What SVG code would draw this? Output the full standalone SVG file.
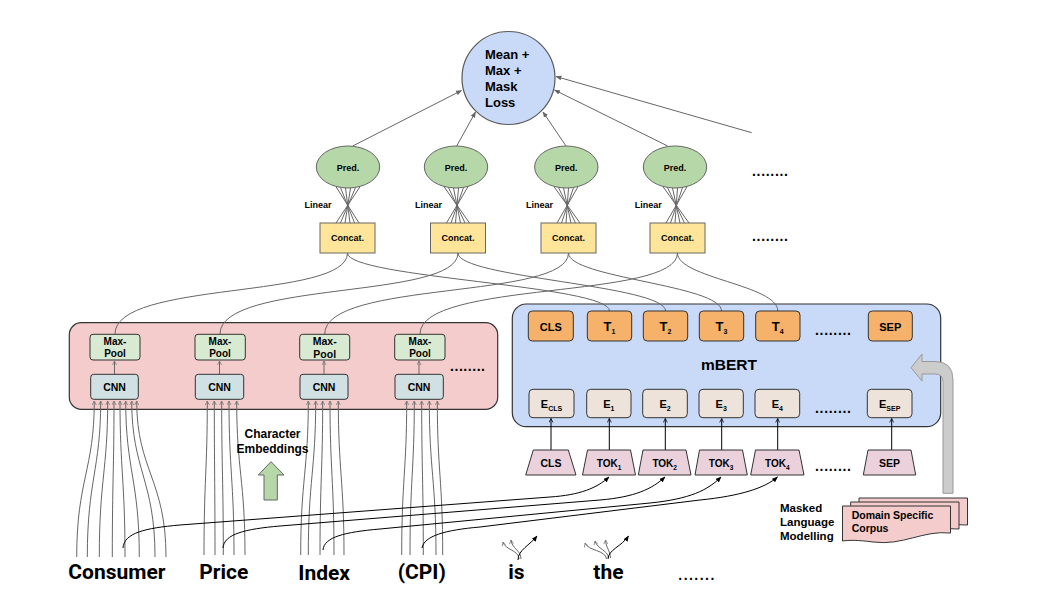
<svg xmlns="http://www.w3.org/2000/svg" width="1039" height="610" viewBox="0 0 1039 610">
<style>
text{font-family:"Liberation Sans",Arial,sans-serif;font-weight:bold;fill:#000}
.big{font-family:Roboto,"Liberation Sans",sans-serif;font-size:21px}
.c{text-anchor:middle}
.ln{fill:none;stroke:#666;stroke-width:1}
.bk{fill:none;stroke:#000;stroke-width:1}
.dots{font-size:14px}
</style>
<defs>
<marker id="ag" viewBox="0 0 10 10" refX="9" refY="5" markerWidth="6" markerHeight="6" orient="auto"><path d="M0,1 L10,5 L0,9 z" fill="#666"/></marker>
<marker id="ab" viewBox="0 0 10 10" refX="9" refY="5" markerWidth="6" markerHeight="6" orient="auto"><path d="M0,1 L10,5 L0,9 z" fill="#000"/></marker>
<marker id="cg" viewBox="0 0 10 10" refX="9" refY="5" markerWidth="5" markerHeight="5" orient="auto"><path d="M1,1 L9,5 L1,9" fill="none" stroke="#777" stroke-width="1.5"/></marker>
<marker id="cb" viewBox="0 0 10 10" refX="9" refY="5" markerWidth="5" markerHeight="5" orient="auto"><path d="M1,1 L9,5 L1,9" fill="none" stroke="#000" stroke-width="1.5"/></marker>
</defs>

<!-- containers -->
<g id="charcnn">
<rect x="69.3" y="322.7" width="428.4" height="86.6" rx="12" fill="#f4cccc" stroke="#333" stroke-width="1.2"/>
<text x="450" y="370.5" class="dots" textLength="35" lengthAdjust="spacing">........</text>
</g>
<g id="mbert">
<rect x="512.3" y="304" width="428.4" height="122.7" rx="14" fill="#c9daf8" stroke="#333" stroke-width="1.2"/>
<text x="729" y="370" class="c" font-size="15.5">mBERT</text>
<text x="815" y="334.5" class="dots" textLength="36" lengthAdjust="spacing">........</text>
<text x="815" y="412.5" class="dots" textLength="36" lengthAdjust="spacing">........</text>
</g>

<!-- connectors -->
<g id="connectors">
<path class="ln" d="M352.7 146 L461.5 90.5" marker-end="url(#ag)"/>
<path class="ln" d="M456.7 146 L475.5 112" marker-end="url(#ag)"/>
<path class="ln" d="M566 146 L543 112" marker-end="url(#ag)"/>
<path class="ln" d="M667.7 146 L554.5 90" marker-end="url(#ag)"/>
<path class="ln" d="M751.7 132.7 L556 76.5" marker-end="url(#ag)"/>
<g class="ln">
<path d="M336 186.7 L359 223 M340.5 187.6 L354.6 223 M345.5 188 L350 223 M350.5 188 L345 223 M355.5 187.6 L340.4 223 M360 186.7 L336 223"/>
<path d="M444 186.7 L469.5 223 M448.5 187.6 L465 223 M453.5 188 L460.5 223 M458.5 188 L455.5 223 M463.5 187.6 L451 223 M468 186.7 L446.5 223"/>
<path d="M554 186.7 L580 223 M558.5 187.6 L575.5 223 M563.5 188 L571 223 M568.5 188 L566 223 M573.5 187.6 L561.5 223 M578 186.7 L557 223"/>
<path d="M663 186.7 L689 223 M667.5 187.6 L684.5 223 M672.5 188 L680 223 M677.5 188 L675 223 M682.5 187.6 L670.5 223 M687 186.7 L666 223"/>
</g>
<path class="ln" d="M347.5 253 C347.5 300 115 280 115 334"/>
<path class="ln" d="M347.5 253 C347.5 278 609.5 285 609.5 311"/>
<path class="ln" d="M458 253 C458 300 220 280 220 334"/>
<path class="ln" d="M458 253 C458 278 665.5 285 665.5 311"/>
<path class="ln" d="M568.5 253 C568.5 300 324.7 280 324.7 334"/>
<path class="ln" d="M568.5 253 C568.5 278 721.5 285 721.5 311"/>
<path class="ln" d="M677.5 253 C677.5 300 420 280 420 334"/>
<path class="ln" d="M677.5 253 C677.5 278 777.8 285 777.8 311"/>
<path class="ln" d="M114.5 374 V361" marker-end="url(#cg)"/>
<path class="ln" d="M219.5 374 V361" marker-end="url(#cg)"/>
<path class="ln" d="M324 374 V361" marker-end="url(#cg)"/>
<path class="ln" d="M419 374 V361" marker-end="url(#cg)"/>
<g class="ln" marker-end="url(#cg)">
<path d="M76.7 557 C76.7 480 94.3 470 94.3 401"/>
<path d="M87.3 557 C87.3 480 100.7 470 100.7 401"/>
<path d="M99.3 557 C99.3 480 107.7 470 107.7 401"/>
<path d="M112.3 557 C112.3 480 114 470 114 401"/>
<path d="M125 557 C125 480 120 470 120 401"/>
<path d="M139.3 557 C139.3 480 125.7 470 125.7 401"/>
<path d="M155 557 C155 480 131.7 470 131.7 401"/>
<path d="M166 557 C166 480 136.7 470 136.7 401"/>
<path d="M204 555 C204 480 207.3 470 207.3 401"/>
<path d="M215 555 C215 480 214.3 470 214.3 401"/>
<path d="M223.3 555 C223.3 480 221.7 470 221.7 401"/>
<path d="M234 555 C234 480 229 470 229 401"/>
<path d="M245 555 C245 480 236.7 470 236.7 401"/>
<path d="M300.7 555 C300.7 480 308.3 470 308.3 401"/>
<path d="M308.3 555 C308.3 480 315.7 470 315.7 401"/>
<path d="M320 555 C320 480 322.7 470 322.7 401"/>
<path d="M334 555 C334 480 330 470 330 401"/>
<path d="M344 555 C344 480 338.3 470 338.3 401"/>
<path d="M401.7 555 C401.7 480 406.7 470 406.7 401"/>
<path d="M410 555 C410 480 414.3 470 414.3 401"/>
<path d="M423.3 555 C423.3 480 421.7 470 421.7 401"/>
<path d="M436 555 C436 480 429.3 470 429.3 401"/>
<path d="M442.7 555 C442.7 480 437.3 470 437.3 401"/>
</g>
<path class="bk" d="M123 548 C124 533 145 528 180 525 L550 497 C580 495 597 488 609 477" marker-end="url(#ab)"/>
<path class="bk" d="M223 548 C224 534 245 529 280 526 L600 500 C635 497 652 489 665 477" marker-end="url(#ab)"/>
<path class="bk" d="M323 550 C324 537 345 532 380 529 L650 503 C690 499 708 490 721 477" marker-end="url(#ab)"/>
<path class="bk" d="M422 548 C424 536 445 530 480 527 L700 500 C740 496 765 488 777.5 477" marker-end="url(#ab)"/>
<path class="ln" d="M519 559 C519 550 505 550 503 542" marker-end="url(#cg)"/>
<path class="ln" d="M521 559 C521 550 512 549 511 540" marker-end="url(#cg)"/>
<path class="bk" d="M518 560 C518 550 530 545 537 536" marker-end="url(#ab)"/>
<path class="ln" d="M606.5 559 C606 550 588 551 585 543" marker-end="url(#cg)"/>
<path class="ln" d="M608.5 558 C608 550 597 549 595 541" marker-end="url(#cg)"/>
<path class="ln" d="M610.5 558 C610 550 606 548 605.5 540" marker-end="url(#cg)"/>
<path class="bk" d="M608 559 C608 550 622 546 628.5 536" marker-end="url(#ab)"/>
<g class="bk" marker-end="url(#cb)">
<path d="M551 450 V418.5"/>
<path d="M609.3 450 V418.5"/>
<path d="M665.3 450 V418.5"/>
<path d="M721.7 450 V418.5"/>
<path d="M777.7 450 V418.5"/>
<path d="M891.7 450 V418.5"/>
</g>
<path d="M922 361.5 L935 361.5 Q953 361.5 953 380 L953 493.3 L943 493.3 L943 382 Q943 374 935 374 L922 374 L922 381 L911 367.7 L922 354 Z" fill="#cccccc" stroke="#999" stroke-width="1"/>
</g>

<g id="loss">
<circle cx="508.5" cy="78" r="46.5" fill="#c9daf8" stroke="#595959" stroke-width="1.2"/>
<text x="485" y="59" font-size="13">Mean +</text>
<text x="485" y="75" font-size="13">Max +</text>
<text x="485" y="91" font-size="13">Mask</text>
<text x="485" y="107" font-size="13">Loss</text>
</g>

<g id="pred1"><ellipse cx="348" cy="167" rx="31.7" ry="21" fill="#b6d7a8" stroke="#666"/><text x="348" y="170.5" class="c" font-size="9">Pred.</text></g>
<g id="pred2"><ellipse cx="456" cy="167" rx="31.7" ry="21" fill="#b6d7a8" stroke="#666"/><text x="456" y="170.5" class="c" font-size="9">Pred.</text></g>
<g id="pred3"><ellipse cx="566.3" cy="167" rx="31.7" ry="21" fill="#b6d7a8" stroke="#666"/><text x="566.3" y="170.5" class="c" font-size="9">Pred.</text></g>
<g id="pred4"><ellipse cx="675" cy="167" rx="31.7" ry="21" fill="#b6d7a8" stroke="#666"/><text x="675" y="170.5" class="c" font-size="9">Pred.</text></g>
<g id="dots-top"><text x="752" y="175.5" class="dots" textLength="36" lengthAdjust="spacing">........</text><text x="752" y="240.5" class="dots" textLength="36" lengthAdjust="spacing">........</text></g>

<g id="linear-labels">
<text x="304.5" y="208" font-size="9">Linear</text>
<text x="415" y="208" font-size="9">Linear</text>
<text x="526" y="208" font-size="9">Linear</text>
<text x="634.7" y="208" font-size="9">Linear</text>
</g>

<g id="concat1"><rect x="320" y="223" width="55" height="30" fill="#ffe599" stroke="#666"/><text x="347.5" y="241" class="c" font-size="9">Concat.</text></g>
<g id="concat2"><rect x="430.5" y="223" width="55" height="30" fill="#ffe599" stroke="#666"/><text x="458" y="241" class="c" font-size="9">Concat.</text></g>
<g id="concat3"><rect x="541" y="223" width="55" height="30" fill="#ffe599" stroke="#666"/><text x="568.5" y="241" class="c" font-size="9">Concat.</text></g>
<g id="concat4"><rect x="650" y="223" width="55" height="30" fill="#ffe599" stroke="#666"/><text x="677.5" y="241" class="c" font-size="9">Concat.</text></g>

<g id="maxpool1"><rect x="90" y="334.3" width="50" height="25.7" rx="3" fill="#d9ead3" stroke="#333"/><text x="115" y="344.5" class="c" font-size="10">Max-</text><text x="115" y="357" class="c" font-size="10">Pool</text></g>
<g id="maxpool2"><rect x="195" y="334.3" width="50.3" height="25.7" rx="3" fill="#d9ead3" stroke="#333"/><text x="220" y="344.5" class="c" font-size="10">Max-</text><text x="220" y="357" class="c" font-size="10">Pool</text></g>
<g id="maxpool3"><rect x="299.7" y="334.3" width="50" height="25.7" rx="3" fill="#d9ead3" stroke="#333"/><text x="324.7" y="345" class="c" font-size="10.5">Max-</text><text x="324.7" y="358" class="c" font-size="10.5">Pool</text></g>
<g id="maxpool4"><rect x="394.7" y="334.3" width="50.3" height="25.7" rx="3" fill="#d9ead3" stroke="#333"/><text x="420" y="344.5" class="c" font-size="10">Max-</text><text x="420" y="357" class="c" font-size="10">Pool</text></g>
<g id="cnn1"><rect x="90.7" y="374.3" width="47.6" height="25" rx="3" fill="#d0e0e3" stroke="#333"/><text x="114.5" y="390.5" class="c" font-size="10.5">CNN</text></g>
<g id="cnn2"><rect x="195.3" y="374.3" width="48.4" height="25" rx="3" fill="#d0e0e3" stroke="#333"/><text x="219.5" y="390.5" class="c" font-size="10.5">CNN</text></g>
<g id="cnn3"><rect x="300" y="374.3" width="48" height="25" rx="3" fill="#d0e0e3" stroke="#333"/><text x="324" y="390.5" class="c" font-size="10.5">CNN</text></g>
<g id="cnn4"><rect x="395" y="374.3" width="48.3" height="25" rx="3" fill="#d0e0e3" stroke="#333"/><text x="419" y="390.5" class="c" font-size="10.5">CNN</text></g>

<g id="t-cls"><rect x="528.3" y="311" width="45" height="30" rx="4" fill="#f6b26b" stroke="#333"/><text x="550.8" y="330.5" class="c" font-size="11">CLS</text></g>
<g id="t1"><rect x="587.3" y="311" width="44.4" height="30" rx="4" fill="#f6b26b" stroke="#333"/><text x="609.5" y="330.5" class="c" font-size="13">T<tspan font-size="7" dy="3">1</tspan></text></g>
<g id="t2"><rect x="643.3" y="311" width="44.4" height="30" rx="4" fill="#f6b26b" stroke="#333"/><text x="665.5" y="330.5" class="c" font-size="13">T<tspan font-size="7" dy="3">2</tspan></text></g>
<g id="t3"><rect x="699.3" y="311" width="44.4" height="30" rx="4" fill="#f6b26b" stroke="#333"/><text x="721.5" y="330.5" class="c" font-size="13">T<tspan font-size="7" dy="3">3</tspan></text></g>
<g id="t4"><rect x="755.7" y="311" width="44.3" height="30" rx="4" fill="#f6b26b" stroke="#333"/><text x="777.8" y="330.5" class="c" font-size="13">T<tspan font-size="7" dy="3">4</tspan></text></g>
<g id="t-sep"><rect x="868.3" y="311" width="44" height="30" rx="4" fill="#f6b26b" stroke="#333"/><text x="890.3" y="330.5" class="c" font-size="11">SEP</text></g>

<g id="e-cls"><rect x="529" y="389.3" width="45" height="28.4" rx="4" fill="#ede3da" stroke="#333"/><text x="551.5" y="407.5" class="c" font-size="11">E<tspan font-size="7" dy="3">CLS</tspan></text></g>
<g id="e1"><rect x="586.7" y="389.3" width="44.3" height="28.4" rx="4" fill="#ede3da" stroke="#333"/><text x="608.8" y="407.5" class="c" font-size="11">E<tspan font-size="7" dy="3">1</tspan></text></g>
<g id="e2"><rect x="642.7" y="389.3" width="44.6" height="28.4" rx="4" fill="#ede3da" stroke="#333"/><text x="665" y="407.5" class="c" font-size="11">E<tspan font-size="7" dy="3">2</tspan></text></g>
<g id="e3"><rect x="699" y="389.3" width="44.3" height="28.4" rx="4" fill="#ede3da" stroke="#333"/><text x="721.2" y="407.5" class="c" font-size="11">E<tspan font-size="7" dy="3">3</tspan></text></g>
<g id="e4"><rect x="755" y="389.3" width="44.7" height="28.4" rx="4" fill="#ede3da" stroke="#333"/><text x="777.3" y="407.5" class="c" font-size="11">E<tspan font-size="7" dy="3">4</tspan></text></g>
<g id="e-sep"><rect x="867.3" y="389.3" width="44.7" height="28.4" rx="4" fill="#ede3da" stroke="#333"/><text x="889.7" y="407.5" class="c" font-size="11">E<tspan font-size="7" dy="3">SEP</tspan></text></g>

<g id="tok-cls"><path d="M533.3 450 H568.3 L576 475 H525.7 Z" fill="#ead1dc" stroke="#333"/><text x="551" y="467" class="c" font-size="10.5">CLS</text></g>
<g id="tok1"><path d="M587.5 450 H630.5 L635.5 475 H582.5 Z" fill="#ead1dc" stroke="#333"/><text x="609" y="467" class="c" font-size="10">TOK<tspan font-size="6.5" dy="2.5">1</tspan></text></g>
<g id="tok2"><path d="M643 450 H686 L691 475 H638.3 Z" fill="#ead1dc" stroke="#333"/><text x="664.7" y="467" class="c" font-size="10">TOK<tspan font-size="6.5" dy="2.5">2</tspan></text></g>
<g id="tok3"><path d="M699.5 450 H742.5 L747.3 475 H695 Z" fill="#ead1dc" stroke="#333"/><text x="721" y="467" class="c" font-size="10">TOK<tspan font-size="6.5" dy="2.5">3</tspan></text></g>
<g id="tok4"><path d="M755.5 450 H799 L804 475 H750.7 Z" fill="#ead1dc" stroke="#333"/><text x="777.3" y="467" class="c" font-size="10">TOK<tspan font-size="6.5" dy="2.5">4</tspan></text></g>
<g id="tok-sep"><path d="M868 450 H911 L915.7 475 H863.3 Z" fill="#ead1dc" stroke="#333"/><text x="889.5" y="467" class="c" font-size="10.5">SEP</text></g>
<g id="dots-tok"><text x="815" y="470.5" class="dots" textLength="36" lengthAdjust="spacing">........</text></g>

<g id="corpus">
<path d="M859 498 H967.5 V525 C940 522 920 538 890 534 C875 532 866 532 859 533 Z" fill="#f4cccc" stroke="#333"/>
<path d="M850.7 502 H959 V529 C932 526 912 542 882 538 C867 536 858 536 850.7 537 Z" fill="#f4cccc" stroke="#333"/>
<path d="M842.5 506 H950.5 V533 C923 530 903 546 873 542 C858 540 849 540 842.5 541 Z" fill="#f4cccc" stroke="#333"/>
<text x="851.7" y="519" font-size="10.5">Domain Specific</text>
<text x="851.7" y="532.3" font-size="10.5">Corpus</text>
</g>
<g id="mlm-label">
<text x="780" y="512.3" font-size="11.5">Masked</text>
<text x="780" y="526" font-size="11.5">Language</text>
<text x="780" y="540" font-size="11.5">Modelling</text>
</g>

<g id="char-emb">
<text x="272.5" y="438" class="c" font-size="12">Character</text>
<text x="272.5" y="452.7" class="c" font-size="12">Embeddings</text>
<path d="M264 500 V475 H258.3 L271 461.7 L284 475 H277.3 V500 Z" fill="#b6d7a8" stroke="#666"/>
</g>

<g id="words">
<text x="68.3" y="579" class="big">Consumer</text>
<text x="199.3" y="579" class="big">Price</text>
<text x="298.3" y="580" class="big">Index</text>
<text x="397.7" y="579" class="big">(CPI)</text>
<text x="508.3" y="579.3" class="big">is</text>
<text x="593.3" y="579.3" class="big">the</text>
<text x="678.3" y="580" class="dots" textLength="36" lengthAdjust="spacing">.......</text>
</g>
</svg>
